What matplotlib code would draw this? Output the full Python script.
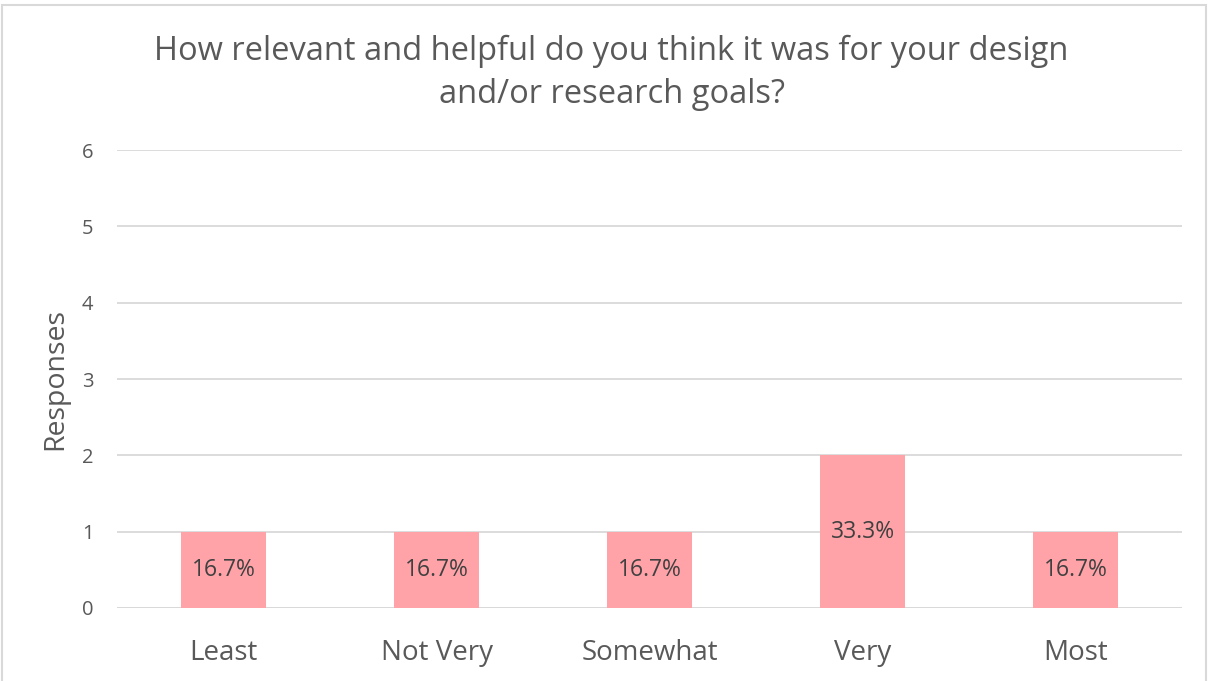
import numpy as np
import matplotlib
matplotlib.use('Agg')
from matplotlib import pyplot as plt
from matplotlib.patches import Rectangle

categories = ['Least', 'Not Very', 'Somewhat', 'Very', 'Most']
responses = [1, 1, 1, 2, 1]
percent_labels = ['16.7%', '16.7%', '16.7%', '33.3%', '16.7%']
y_ticks = [0, 1, 2, 3, 4, 5, 6]

title = 'How relevant and helpful do you think it was for your design\nand/or research goals?'
text_color = '#595959'
bar_color = '#FFA3A8'
grid_color = '#D9D9D9'

plt.rcParams['font.family'] = ['Open Sans', 'DejaVu Sans']

fig = plt.figure(figsize=(12.1, 6.81), dpi=100)
ax = fig.add_axes([0.0967, 0.1072, 0.8802, 0.6725])

x = np.arange(len(categories))
bars = ax.bar(x, responses, width=0.4, color=bar_color, zorder=2)

for rect, lab in zip(bars, percent_labels):
    ax.text(rect.get_x() + rect.get_width() / 2, rect.get_height() / 2, lab,
            ha='center', va='center', fontsize=16.5, color='#404040', zorder=3)

ax.set_xlim(-0.5, len(categories) - 0.5)
ax.set_ylim(0, 6)
ax.set_yticks(y_ticks)
ax.set_xticks(x)
ax.set_xticklabels(categories, fontsize=20, color=text_color)
ax.tick_params(axis='y', labelsize=14.5, colors=text_color, length=0, pad=17)
ax.tick_params(axis='x', length=0, pad=22)
ax.yaxis.grid(True, color=grid_color, linewidth=1.3, zorder=0)
for s in ax.spines.values():
    s.set_visible(False)
ax.axhline(0, color=grid_color, linewidth=1.3, zorder=1)

ax.set_ylabel('Responses', fontsize=20.5, color=text_color)
ax.yaxis.set_label_coords(-0.045, 0.5)
fig.text(0.5055, 0.893, title, ha='center', va='center', fontsize=23.5,
         color=text_color, linespacing=1.42)

# outer chart border
fig.patches.append(Rectangle((0.002, -0.01), 0.995, 1.003, transform=fig.transFigure,
                             fill=False, edgecolor='#D9D9D9', linewidth=1.5))

fig.savefig('out.png', dpi=100)
